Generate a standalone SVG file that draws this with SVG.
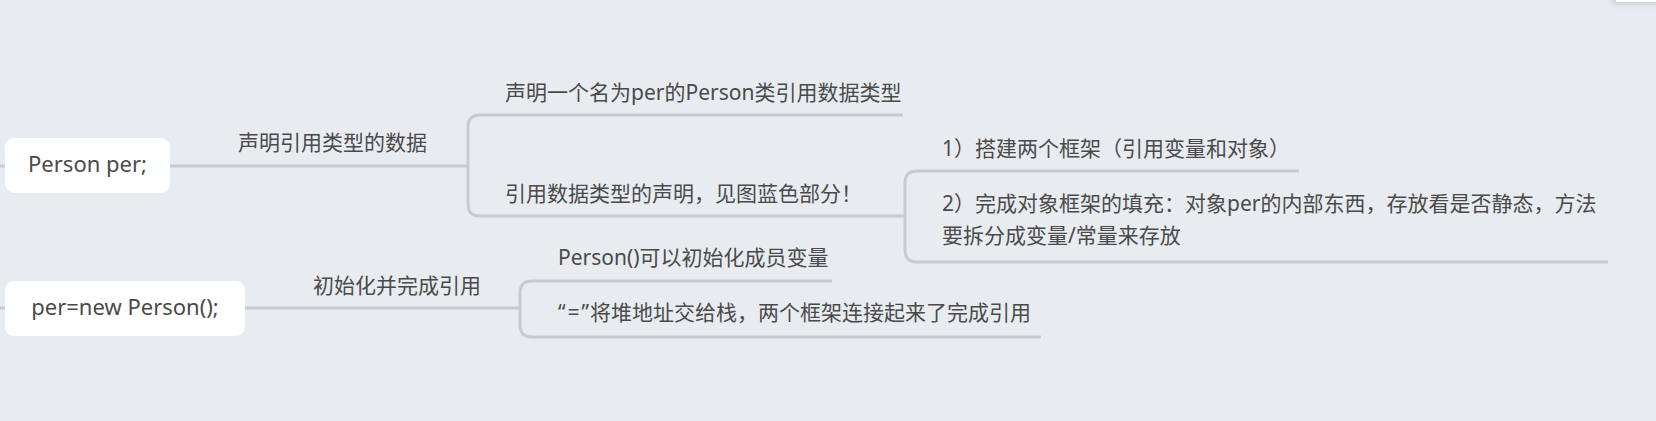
<svg xmlns="http://www.w3.org/2000/svg" width="1656" height="421" viewBox="0 0 1656 421">
<defs>
<style>
.bg{fill:#E8ECF1}
.node{fill:#FFFFFF}
.conn{fill:none;stroke:#C9CACE;stroke-width:3;stroke-linecap:butt}
.t{font-family:"Noto Sans","Noto Sans CJK SC",sans-serif;fill:#4A4A4A}
.nt{font-size:22px}
.lt{font-size:21px}
</style>
<filter id="sh" x="-50%" y="-50%" width="200%" height="300%">
<feGaussianBlur stdDeviation="3"/>
</filter>
</defs>
<rect class="bg" x="0" y="0" width="1656" height="421"/>
<g id="corner">
<rect x="1612" y="-10" width="60" height="14" fill="#C8CCD2" filter="url(#sh)"/>
<rect x="1616" y="-10" width="60" height="12" fill="#FFFFFF"/>
</g>
<g id="connectors">
<path class="conn" d="M0,166 H10"/>
<path class="conn" d="M0,308 H10"/>
<path class="conn" d="M165,166 H468"/>
<path class="conn" d="M903,115 H480 Q468,115 468,127 V204 Q468,216 480,216 H905"/>
<path class="conn" d="M1299,171 H917 Q905,171 905,183 V250 Q905,262 917,262 H1608"/>
<path class="conn" d="M240,308 H520"/>
<path class="conn" d="M832,281 H532 Q520,281 520,293 V325 Q520,337 532,337 H1041"/>
</g>
<g id="node-person-per">
<rect class="node" x="5" y="138" width="165" height="55" rx="9"/>
<text class="t nt" x="87.5" y="172" text-anchor="middle">Person per;</text>
</g>
<g id="label-declare">
<text class="t lt" x="238" y="150">声明引用类型的数据</text>
</g>
<g id="leaf-declare-name">
<text class="t lt" x="505" y="100">声明一个名为per的Person类引用数据类型</text>
</g>
<g id="leaf-declare-ref">
<text class="t lt" x="505" y="201">引用数据类型的声明，见图蓝色部分！</text>
</g>
<g id="leaf-step1">
<text class="t lt" x="942" y="156">1）搭建两个框架（引用变量和对象）</text>
</g>
<g id="leaf-step2">
<text class="t lt" x="942" y="211">2）完成对象框架的填充：对象per的内部东西，存放看是否静态，方法</text>
<text class="t lt" x="942" y="243">要拆分成变量/常量来存放</text>
</g>
<g id="node-new-person">
<rect class="node" x="5" y="281" width="240" height="55" rx="9"/>
<text class="t nt" x="125" y="315" text-anchor="middle">per=new Person();</text>
</g>
<g id="label-init">
<text class="t lt" x="313" y="293">初始化并完成引用</text>
</g>
<g id="leaf-init-member">
<text class="t lt" x="558" y="265">Person()可以初始化成员变量</text>
</g>
<g id="leaf-assign">
<text class="t lt" x="558" y="320">“<tspan dx="2">=</tspan><tspan dx="2">”</tspan><tspan dx="1">将堆地址交给栈，两个框架连接起来了完成引用</tspan></text>
</g>
</svg>
